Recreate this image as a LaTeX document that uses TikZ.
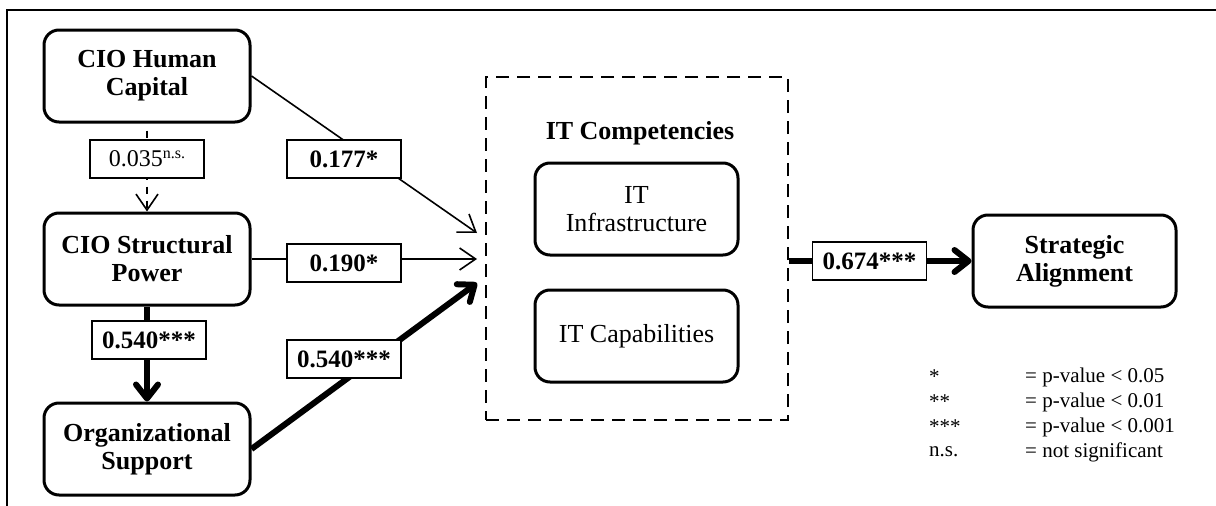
\documentclass[tikz,border=0pt]{standalone}
\usepackage{fontspec}
\setmainfont{Liberation Serif}
\usetikzlibrary{arrows.meta}
\begin{document}
\begin{tikzpicture}[x=1pt,y=-1pt,
  mainbox/.style={draw, line width=3pt, rounded corners=15pt, minimum width=206pt, minimum height=92pt, align=center, inner sep=0pt, font=\fontsize{26}{28}\selectfont\bfseries},
  itbox/.style={draw, line width=3pt, rounded corners=15pt, minimum width=203pt, minimum height=92pt, align=center, inner sep=0pt, font=\fontsize{26}{28}\selectfont},
  coef/.style={draw, line width=1.2pt, fill=white, minimum width=114pt, minimum height=38pt, inner sep=0pt, font=\fontsize{25}{28}\selectfont\bfseries},
  thinarrow/.style={line width=1.6pt, -{Straight Barb[length=16pt,width=22pt]}},
  thickarrow/.style={line width=6pt, -{Straight Barb[round,length=14pt,width=22pt]}},
  legendtext/.style={anchor=west, inner sep=0pt, font=\fontsize{21}{24}\selectfont},
  frameline/.style={line width=2.5pt},
  container/.style={draw, line width=2pt, dash pattern=on 13pt off 8pt, minimum width=302pt, minimum height=343pt, inner sep=0pt}
]
\useasboundingbox (0,0) rectangle (1216,506);
% partial frame
\draw[frameline] (1216,10) -- (7,10) -- (7,506);

% main constructs
\node[mainbox] (hc) at (147,76) {CIO Human\\Capital};
\node[mainbox] (sp) at (147,259) {CIO Structural\\Power};
\node[mainbox] (os) at (147,449) {Organizational\\Support};
\node[mainbox, minimum width=203pt] (sa) at (1074.5,261) {Strategic\\Alignment};

% IT competencies container
\node[container] (itc) at (637,248.5) {};
\node[font=\fontsize{26}{28}\selectfont\bfseries, inner sep=0pt] (ittitle) at (640,133) {IT Competencies};
\node[itbox] (infra) at (636.5,209) {IT\\Infrastructure};
\node[itbox] (capab) at (636.5,336) {IT Capabilities};

% arrow end points
\coordinate (t1) at (477,233);
\coordinate (t2) at (477,259);
\coordinate (t3) at (477,283);

% connectors
\draw[thinarrow, dash pattern=on 7pt off 7pt, dash phase=7pt] (hc.south) -- (sp.north);
\draw[thickarrow] (sp.south) -- (os.north);
\draw[thinarrow] (hc.east) -- (t1);
\draw[thinarrow] (sp.east) -- (t2);
\draw[thickarrow] (os.east) -- (t3);
\draw[thickarrow] (itc.east |- sa.west) -- (sa.west);

% coefficient labels
\node[coef, font=\fontsize{24}{28}\selectfont] (l035) at (147,159) {0.035\raisebox{8pt}{\fontsize{16}{16}\selectfont n.s.}};
\node[coef] (l540a) at (149,340) {0.540***};
\node[coef] (l177) at (344,159) {0.177*};
\node[coef] (l190) at (344,263) {0.190*};
\node[coef] (l540b) at (344,359) {0.540***};
\node[coef] (l674) at (869.5,261) {0.674***};

% legend
\node[legendtext] (k1) at (929,377) {*};
\node[legendtext] (k2) at (929,402) {**};
\node[legendtext] (k3) at (929,427) {***};
\node[legendtext] (k4) at (929,452) {n.s.};
\node[legendtext] (v1) at (1025,377) {= p-value < 0.05};
\node[legendtext] (v2) at (1025,402) {= p-value < 0.01};
\node[legendtext] (v3) at (1025,427) {= p-value < 0.001};
\node[legendtext] (v4) at (1025,452) {= not significant};
\end{tikzpicture}
\end{document}
